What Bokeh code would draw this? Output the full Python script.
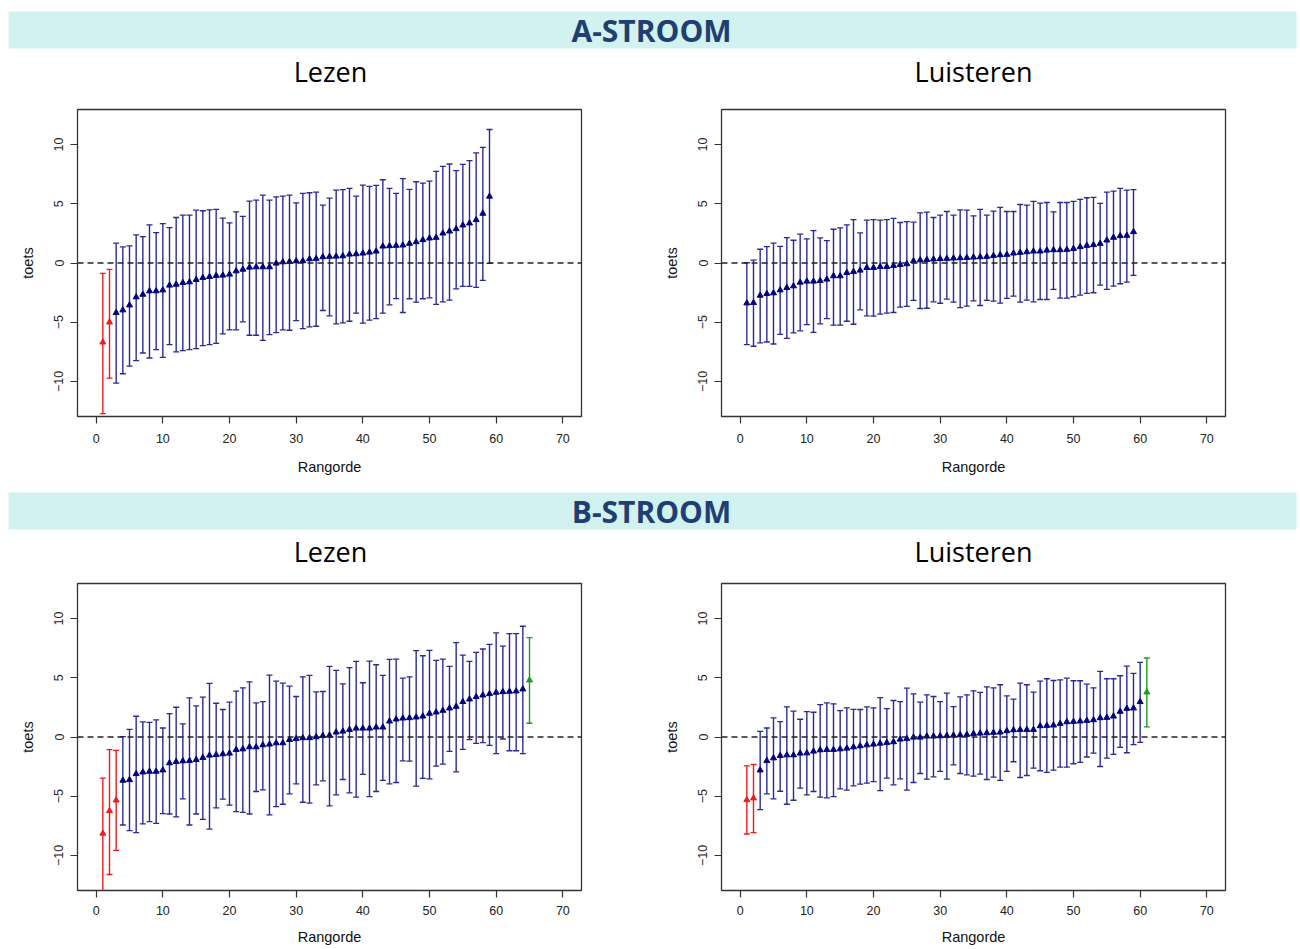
import math
from bokeh.plotting import figure
from bokeh.models import Range1d, FixedTicker, Span, ColumnDataSource
from bokeh.layouts import column, row
from bokeh.embed import file_html
from bokeh.resources import INLINE
from bokeh.core.properties import value

# ---------------- data ----------------
x_ticks = [0, 10, 20, 30, 40, 50, 60, 70]
y_ticks = [-10, -5, 0, 5, 10]
section_labels = ["A-STROOM", "B-STROOM"]
panel_titles = ["Lezen", "Luisteren"]
x_label = "Rangorde"
y_label = "toets"

a_lezen_est = [-6.69, -5.00, -4.20, -3.98, -3.56, -2.88, -2.66, -2.37, -2.37, -2.29,
               -1.89, -1.81, -1.67, -1.61, -1.41, -1.24, -1.16, -1.07, -1.04, -0.96,
               -0.68, -0.54, -0.37, -0.34, -0.34, -0.34, -0.03, 0.08, 0.11, 0.17,
               0.17, 0.34, 0.37, 0.51, 0.54, 0.56, 0.59, 0.73, 0.76, 0.82,
               0.90, 0.99, 1.41, 1.44, 1.47, 1.50, 1.64, 1.78, 1.95, 2.09,
               2.15, 2.51, 2.68, 2.88, 3.19, 3.36, 3.64, 4.18, 5.62]
a_lezen_hi = [-0.88, -0.54, 1.67, 1.36, 1.44, 2.37, 2.23, 3.22, 2.57, 3.33,
              2.99, 3.84, 4.04, 4.04, 4.46, 4.41, 4.49, 4.52, 3.79, 3.39,
              4.32, 3.93, 5.23, 5.31, 5.73, 5.31, 5.59, 5.65, 5.73, 5.08,
              5.87, 5.93, 5.99, 4.89, 5.48, 6.16, 6.19, 6.30, 5.65, 6.58,
              6.47, 6.55, 7.03, 6.30, 5.88, 7.12, 6.21, 6.86, 6.75, 6.92,
              7.74, 8.16, 8.36, 7.80, 8.33, 8.64, 9.29, 9.77, 11.27]
a_lezen_lo = [-12.71, -9.72, -10.14, -9.35, -8.70, -8.25, -7.60, -8.02, -7.32, -7.97,
              -6.89, -7.51, -7.40, -7.32, -7.23, -6.98, -6.89, -6.78, -5.99, -5.65,
              -5.65, -4.97, -6.10, -6.10, -6.53, -6.05, -5.88, -5.65, -5.68, -4.86,
              -5.54, -5.40, -5.34, -4.01, -4.46, -5.14, -5.06, -4.92, -4.24, -5.08,
              -4.83, -4.69, -4.24, -3.53, -3.00, -4.18, -3.02, -3.31, -3.02, -2.94,
              -3.50, -3.28, -3.14, -2.18, -1.98, -1.98, -2.06, -1.47, -0.03]

a_luist_est = [-3.39, -3.36, -2.74, -2.60, -2.54, -2.29, -2.09, -1.95, -1.64, -1.55,
               -1.55, -1.50, -1.38, -1.10, -1.10, -0.82, -0.73, -0.62, -0.40, -0.40,
               -0.31, -0.31, -0.23, -0.14, -0.08, 0.17, 0.25, 0.28, 0.32, 0.36,
               0.37, 0.40, 0.42, 0.45, 0.48, 0.51, 0.54, 0.62, 0.68, 0.71,
               0.82, 0.88, 0.93, 0.99, 0.99, 1.07, 1.10, 1.10, 1.13, 1.21,
               1.36, 1.47, 1.53, 1.64, 1.92, 2.15, 2.29, 2.32, 2.63]
a_luist_hi = [0.02, 0.25, 1.16, 1.38, 1.67, 1.41, 2.15, 1.92, 2.43, 2.04,
              2.74, 2.12, 1.89, 2.85, 2.97, 3.22, 3.67, 2.54, 3.62, 3.67,
              3.62, 3.67, 3.76, 3.42, 3.50, 3.45, 4.24, 4.30, 3.84, 4.04,
              4.35, 4.04, 4.49, 4.46, 3.98, 4.52, 4.04, 4.38, 4.69, 4.35,
              4.35, 4.94, 4.89, 5.20, 5.06, 5.11, 4.32, 5.11, 5.11, 5.20,
              5.37, 5.51, 5.54, 5.03, 5.99, 6.07, 6.30, 6.16, 6.19]
a_luist_lo = [-6.89, -7.03, -6.75, -6.67, -6.84, -6.02, -6.36, -5.90, -5.73, -5.20,
              -5.85, -5.14, -4.69, -5.25, -5.25, -4.92, -5.17, -3.95, -4.46, -4.49,
              -4.32, -4.24, -4.18, -3.73, -3.67, -3.16, -3.84, -3.82, -3.28, -3.40,
              -3.05, -3.31, -3.76, -3.64, -3.19, -3.59, -3.16, -3.22, -3.39, -2.99,
              -2.80, -3.31, -3.14, -3.28, -3.08, -3.08, -2.23, -2.97, -2.97, -2.85,
              -2.71, -2.57, -2.51, -1.86, -2.23, -1.95, -1.75, -1.61, -1.05]

b_lezen_est = [-8.14, -6.24, -5.34, -3.67, -3.62, -3.11, -2.97, -2.91, -2.91, -2.80,
               -2.20, -2.09, -2.03, -2.01, -1.92, -1.75, -1.55, -1.50, -1.44, -1.38,
               -1.07, -1.02, -0.85, -0.85, -0.68, -0.62, -0.51, -0.51, -0.23, -0.14,
               -0.08, -0.08, 0.00, 0.11, 0.14, 0.40, 0.48, 0.62, 0.73, 0.73,
               0.73, 0.82, 0.82, 1.33, 1.50, 1.58, 1.61, 1.67, 1.75, 1.98,
               2.09, 2.23, 2.43, 2.57, 2.97, 3.19, 3.39, 3.53, 3.64, 3.76,
               3.81, 3.84, 3.87, 4.04, 4.80]
b_lezen_hi = [-3.47, -1.07, -1.13, 0.03, 0.65, 1.75, 1.27, 1.24, 1.44, 0.76,
              1.98, 2.51, 1.10, 3.31, 2.63, 3.36, 4.52, 2.85, 2.32, 2.94,
              3.87, 4.15, 4.66, 2.88, 2.99, 5.23, 4.72, 4.55, 4.29, 3.42,
              5.08, 5.20, 3.81, 3.84, 5.96, 5.62, 4.49, 5.85, 6.38, 4.58,
              6.41, 6.10, 5.20, 6.55, 6.58, 4.97, 5.08, 7.29, 6.86, 7.32,
              6.47, 6.58, 5.96, 7.97, 6.92, 6.38, 7.15, 7.43, 7.82, 8.79,
              7.68, 8.73, 8.73, 9.35, 8.39]
b_lezen_lo = [-13.30, -11.61, -9.58, -7.43, -7.91, -8.08, -7.34, -7.15, -7.29, -6.47,
              -6.50, -6.75, -5.23, -7.43, -6.50, -6.95, -7.77, -5.99, -5.25, -5.76,
              -6.30, -6.36, -6.50, -4.60, -4.46, -6.58, -5.88, -5.68, -4.80, -3.95,
              -5.51, -5.59, -4.04, -3.70, -5.82, -4.89, -3.59, -4.72, -5.08, -3.16,
              -5.03, -4.60, -3.67, -3.95, -3.84, -2.01, -2.04, -4.15, -3.50, -3.53,
              -2.46, -2.29, -1.21, -2.94, -1.04, -0.23, -0.54, -0.48, -0.71, -1.41,
              -0.17, -1.16, -1.16, -1.41, 1.16]

b_luist_est = [-5.31, -5.17, -2.80, -2.01, -1.78, -1.58, -1.53, -1.53, -1.38, -1.36,
               -1.21, -1.10, -1.07, -1.07, -1.02, -0.96, -0.85, -0.76, -0.68, -0.62,
               -0.54, -0.48, -0.42, -0.20, -0.14, -0.03, -0.03, 0.06, 0.06, 0.08,
               0.11, 0.14, 0.17, 0.20, 0.28, 0.31, 0.34, 0.37, 0.40, 0.51,
               0.59, 0.62, 0.62, 0.62, 0.93, 0.96, 0.99, 1.13, 1.27, 1.30,
               1.33, 1.38, 1.44, 1.61, 1.64, 1.75, 2.15, 2.40, 2.43, 2.97, 3.78]
b_luist_hi = [-2.43, -2.32, 0.48, 0.76, 1.61, 1.30, 2.54, 2.18, 1.50, 2.15,
              2.09, 2.74, 2.88, 2.80, 2.23, 2.46, 2.34, 2.32, 2.54, 2.46,
              3.33, 2.40, 3.08, 2.99, 4.12, 3.64, 2.94, 3.56, 3.42, 2.99,
              3.70, 2.57, 3.39, 3.56, 3.90, 3.76, 4.24, 4.15, 4.41, 3.47,
              3.19, 4.55, 4.41, 3.79, 4.72, 4.92, 4.77, 4.83, 4.97, 4.75,
              4.75, 4.46, 4.15, 5.54, 4.92, 4.92, 5.17, 5.99, 5.37, 6.30, 6.67]
b_luist_lo = [-8.19, -8.08, -6.13, -4.80, -5.23, -4.58, -5.68, -5.34, -4.32, -4.89,
              -4.60, -5.08, -5.14, -5.03, -4.38, -4.49, -4.12, -3.98, -3.90, -3.76,
              -4.52, -3.47, -4.04, -3.53, -4.49, -3.84, -3.08, -3.56, -3.36, -2.91,
              -3.56, -2.35, -3.08, -3.19, -3.31, -3.14, -3.59, -3.39, -3.67, -2.91,
              -2.09, -3.42, -3.25, -2.63, -2.85, -2.99, -2.80, -2.54, -2.54, -2.26,
              -2.15, -1.69, -1.36, -2.49, -1.78, -1.47, -0.88, -1.33, -0.65, -0.45, 0.85]

# ---------------- style ----------------
BAND = "#d1f2f0"
BAND_TEXT = "#1f3f73"
BLUE_BAR = "#2a2a96"
BLUE_PT = "#000080"
RED = "#ee1c1c"
GREEN = "#1e9a1e"
AX = "#333333"
AXFONT = "Liberation Sans"
TOTAL_W = 1300


def header(label, h, band_top, band_bot, title_y, text_y):
    hp = figure(width=TOTAL_W, height=h, x_range=Range1d(0, TOTAL_W), y_range=Range1d(h, 0),
                output_backend="svg", toolbar_location=None, min_border=0,
                x_axis_location=None, y_axis_location=None)
    hp.grid.visible = False
    hp.outline_line_color = None
    hp.quad(left=8, right=1296, top=band_top, bottom=band_bot,
            fill_color=BAND, line_color=None)
    hp.text(x=[651], y=[text_y], text=[label], text_font=value("Open Sans"),
            text_font_style="bold", text_font_size="30px", text_color=BAND_TEXT,
            text_align="center", text_baseline="middle")
    hp.text(x=[330, 973], y=[title_y, title_y], text=panel_titles,
            text_font=value("Open Sans"), text_font_size="27px", text_color="#000000",
            text_align="center", text_baseline="middle")
    return hp


def panel(est, lo, hi, h, bl, br, bt, bb, tick_standoff, label_standoff):
    ranks = list(range(1, len(est) + 1))
    bar_col, pt_col = [], []
    for l, u in zip(lo, hi):
        if u < 0:
            bar_col.append(RED); pt_col.append(RED)
        elif l > 0:
            bar_col.append(GREEN); pt_col.append(GREEN)
        else:
            bar_col.append(BLUE_BAR); pt_col.append(BLUE_PT)
    src = ColumnDataSource(dict(x=ranks, est=est, lo=lo, hi=hi, bc=bar_col, pc=pt_col))
    p = figure(width=650, height=h, x_range=Range1d(-2.8, 72.8), y_range=Range1d(-12.96, 12.96),
               output_backend="svg", toolbar_location=None,
               min_border_left=bl, min_border_right=br, min_border_top=bt, min_border_bottom=bb)
    p.grid.visible = False
    p.outline_line_color = AX
    p.outline_line_width = 1.3
    p.background_fill_color = "white"
    p.add_layout(Span(location=0, dimension="width", line_color="#222222",
                      line_dash="6 4", line_width=1.3))
    p.segment(x0="x", y0="lo", x1="x", y1="hi", line_color="bc", line_width=1.4, source=src)
    p.scatter(x="x", y="lo", marker="dash", size=6, line_color="bc", line_width=1.3, source=src)
    p.scatter(x="x", y="hi", marker="dash", size=6, line_color="bc", line_width=1.3, source=src)
    p.scatter(x="x", y="est", marker="triangle", size=6, fill_color="pc", line_color="pc", source=src)

    p.xaxis.ticker = FixedTicker(ticks=x_ticks)
    p.yaxis.ticker = FixedTicker(ticks=y_ticks)
    for ax in (p.xaxis, p.yaxis):
        ax.axis_line_color = None
        ax.major_tick_line_color = AX
        ax.major_tick_line_width = 1.2
        ax.major_tick_out = 7
        ax.major_tick_in = 0
        ax.minor_tick_line_color = None
        ax.major_label_text_font = AXFONT
        ax.major_label_text_font_size = "12.5px"
        ax.major_label_text_color = "#222222"
        ax.axis_label_text_font = AXFONT
        ax.axis_label_text_font_size = "14.5px"
        ax.axis_label_text_font_style = "normal"
        ax.axis_label_text_color = "#111111"
    p.xaxis.axis_label = x_label
    p.yaxis.axis_label = y_label
    p.xaxis.major_label_standoff = tick_standoff
    p.xaxis.axis_label_standoff = label_standoff
    p.yaxis.major_label_orientation = "vertical"
    p.yaxis.major_label_standoff = 7
    p.yaxis.axis_label_standoff = 16
    return p


hA = header(section_labels[0], 95, 11, 48, 71, 30)
pA1 = panel(a_lezen_est, a_lezen_lo, a_lezen_hi, 395, 77, 69, 14, 74, 10, 13)
pA2 = panel(a_luist_est, a_luist_lo, a_luist_hi, 395, 71, 75, 14, 74, 10, 13)
hB = header(section_labels[1], 85, 2, 39, 61, 20.5)
pB1 = panel(b_lezen_est, b_lezen_lo, b_lezen_hi, 374, 77, 69, 8, 59, 8, 11)
pB2 = panel(b_luist_est, b_luist_lo, b_luist_hi, 374, 71, 75, 8, 59, 8, 11)

layout = column(hA, row(pA1, pA2), hB, row(pB1, pB2))

with open("out.html", "w") as f:
    f.write(file_html(layout, INLINE))
